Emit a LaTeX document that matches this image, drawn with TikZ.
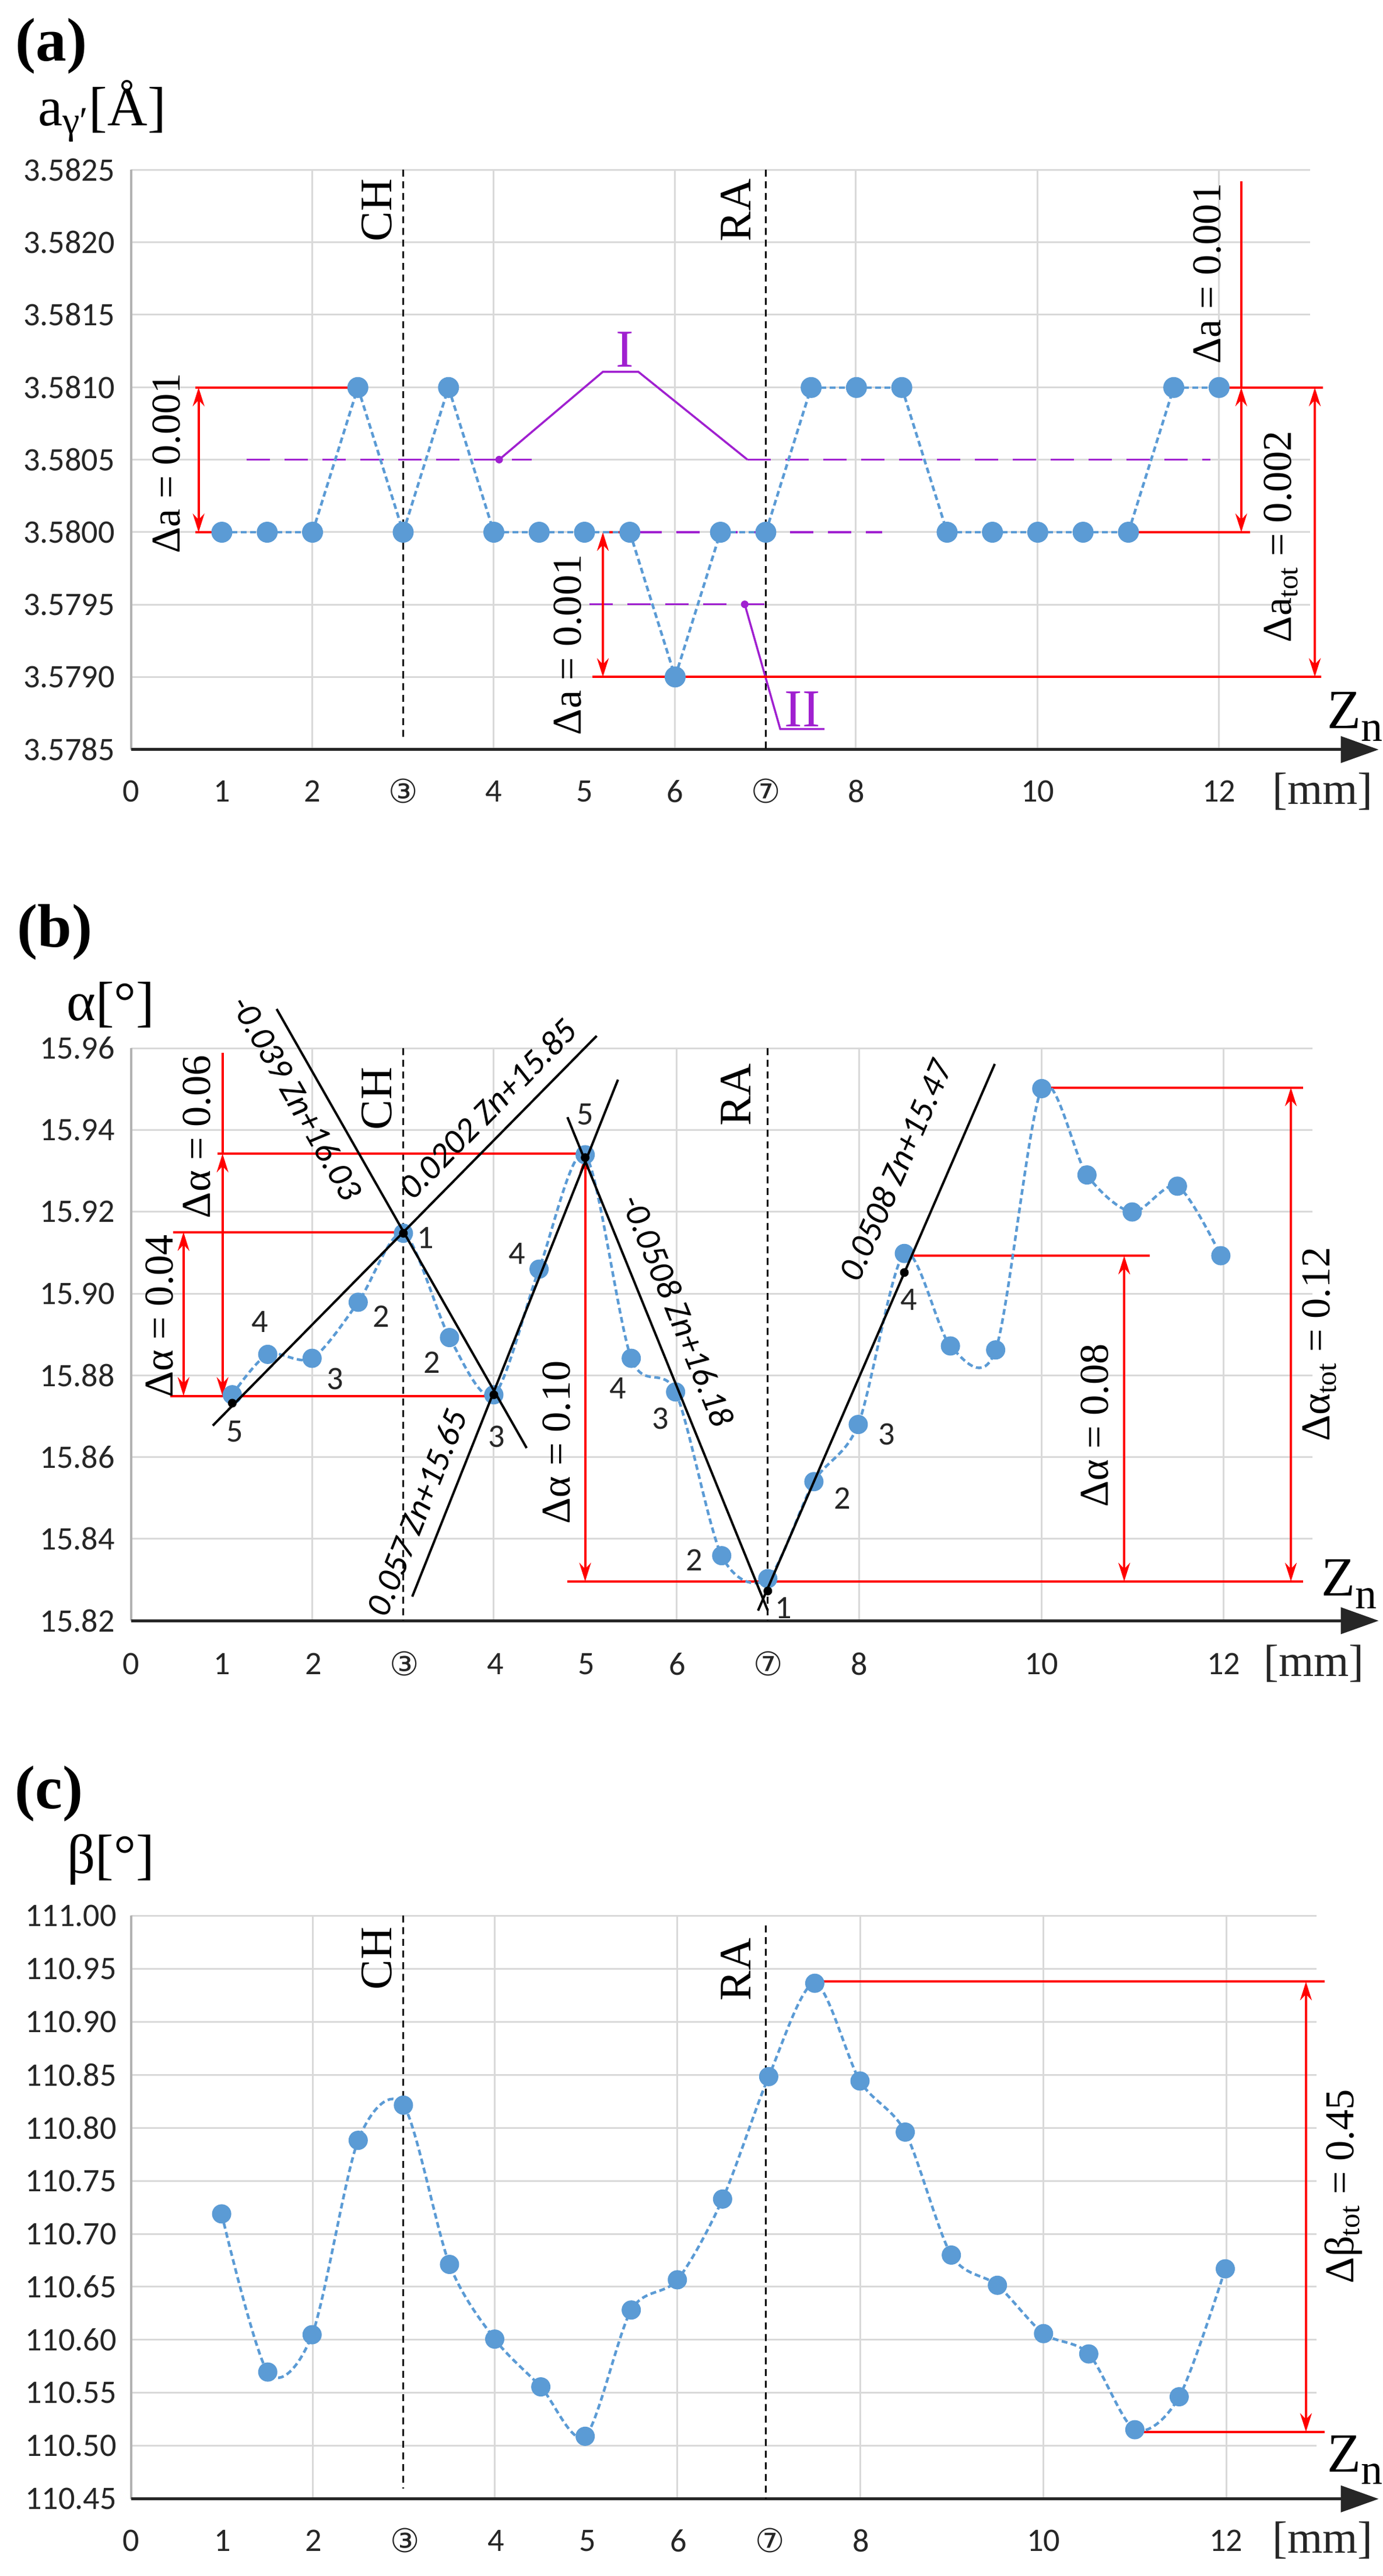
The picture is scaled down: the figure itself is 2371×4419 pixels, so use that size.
\documentclass[tikz,border=0pt]{standalone}
\usepackage{fontspec}
\setmainfont{Liberation Serif}
\newfontfamily\calfont{Carlito}
\newfontfamily\djv{DejaVu Sans}
\usetikzlibrary{arrows.meta}
\definecolor{ptblue}{HTML}{5B9BD5}
\definecolor{gridc}{HTML}{D9D9D9}
\definecolor{purp}{HTML}{A020D0}
\definecolor{tickc}{HTML}{262626}
\tikzset{
  gridl/.style={gridc,line width=0.03cm},
  yaxl/.style={gray!60,line width=0.045cm},
  xaxl/.style={black!85,line width=0.05cm,-{Triangle[length=0.65cm,width=0.45cm]}},
  tick/.style={font=\calfont\fontsize{16}{16}\selectfont,text=tickc,inner sep=0pt},
  ytick/.style={tick,anchor=east},
  dot/.style={circle,fill=ptblue,inner sep=0pt,minimum size=0.36cm},
  bdot/.style={circle,fill=black,inner sep=0pt,minimum size=0.15cm},
  bdash/.style={ptblue,line width=0.045cm,dash pattern=on 0.1cm off 0.06cm},
  vdash/.style={black,line width=0.03cm,dash pattern=on 0.12cm off 0.08cm},
  redl/.style={red,line width=0.04cm},
  redarr/.style={red,line width=0.04cm,{Stealth[length=0.32cm,width=0.2cm]}-{Stealth[length=0.32cm,width=0.2cm]}},
  lbl/.style={font=\fontsize{22}{22}\selectfont,inner sep=0pt,rotate=90},
  dlbl/.style={font=\fontsize{20}{20}\selectfont,inner sep=0pt,rotate=90},
  fitl/.style={black,line width=0.04cm},
  fitlbl/.style={font=\calfont\itshape\fontsize{17}{17}\selectfont,inner sep=1pt},
  numl/.style={font=\calfont\fontsize{16}{16}\selectfont,text=tickc,inner sep=0pt},
  purl/.style={purp,line width=0.035cm},
  purdash/.style={purp,line width=0.035cm,dash pattern=on 0.4cm off 0.25cm},
  pdot/.style={circle,fill=purp,inner sep=0pt,minimum size=0.13cm},
  panl/.style={font=\bfseries\fontsize{30}{30}\selectfont,inner sep=0pt},
  axt/.style={font=\fontsize{27}{27}\selectfont,inner sep=0pt},
}
\begin{document}
\begin{tikzpicture}[x=0.01cm,y=-0.01cm]
\useasboundingbox[fill=white] (0,0) rectangle (2371,4419);
%================ (a)
\begin{scope}[shift={(0,0)},x=0.0151987cm,y=-0.0092949cm]
\node[panl] (pa) at (58,85) {(a)};
\node[axt] (ta) at (115,205) {a\textsubscript{γ′}[Å]};
\foreach \k/\t in {0/3.5825,1/3.5820,2/3.5815,3/3.5810,4/3.5805,5/3.5800,6/3.5795,7/3.5790} {
  \draw[gridl] (148,{313+133.75*\k}) -- (1478,{313+133.75*\k});
  \node[ytick] (ya\k) at (130,{313+133.75*\k}) {\t};
}
\node[ytick] (ya8) at (130,1383) {3.5785};
\foreach \xx in {352,557,761,965,1170,1375} \draw[gridl] (\xx,313) -- (\xx,1383);
\draw[yaxl] (148,313) -- (148,1383);
\foreach \m/\t [count=\i] in {0/0,1/1,2/2,3/{\djv ③},4/4,5/5,6/6,7/{\djv ⑦},8/8,10/10,12/12}
  \node[tick] (xa\i) at ({148+102.25*\m},1460) {\t};
\node[tick,font=\fontsize{22}{22}\selectfont] (mma) at (1492,1460) {[mm]};
\coordinate (axa0) at (148,1383); \coordinate (axa1) at (1555,1383);
\draw[xaxl] (axa0) -- (axa1);
\node[axt] (za) at (1528,1322) {Z\raisebox{-0.5ex}{\fontsize{21}{21}\selectfont n}};
% CH / RA
\coordinate (cha0) at (455,313); \coordinate (cha1) at (455,1362);
\coordinate (raa0) at (864,313); \coordinate (raa1) at (864,1383);
\draw[vdash] (cha0) -- (cha1); \draw[vdash] (raa0) -- (raa1);
\node[lbl] (cha) at (425,388) {CH};
\node[lbl] (raa) at (830,388) {RA};
% purple
\coordinate (p1) at (278,848); \coordinate (p2) at (600,848);
\coordinate (p3) at (563,848); \coordinate (p4) at (680,686); \coordinate (p5) at (720,686);
\coordinate (p6) at (843,848); \coordinate (p7) at (1365,848);
\coordinate (p8) at (720,982); \coordinate (p9) at (995,982);
\coordinate (p10) at (665,1115); \coordinate (p11) at (870,1115);
\coordinate (p12) at (840,1115); \coordinate (p13) at (880,1345); \coordinate (p14) at (930,1345);
\draw[purdash] (p1) -- (p2);
\draw[purdash] (p6) -- (p7);
\draw[purdash] (p8) -- (p9);
\draw[purdash] (p10) -- (p11);
\draw[purl] (p3) -- (p4) -- (p5) -- (p6);
\draw[purl] (p12) -- (p13) -- (p14);
\node[pdot] (pd1) at (p3) {};
\node[pdot] (pd2) at (p12) {};
\node[font=\fontsize{26}{26}\selectfont,text=purp,inner sep=0pt] (lI) at (705,645) {I};
\node[font=\fontsize{26}{26}\selectfont,text=purp,inner sep=0pt] (lII) at (905,1308) {II};
% red
\coordinate (r1) at (220,715); \coordinate (r2) at (395,715);
\coordinate (r3) at (220,982); \coordinate (r4) at (250,982);
\coordinate (r5) at (224,715); \coordinate (r6) at (224,982);
\draw[redl] (r1) -- (r2); \draw[redl] (r3) -- (r4); \draw[redarr] (r5) -- (r6);
\node[dlbl] (da1) at (188,855) {Δa = 0.001};
\coordinate (r7) at (668,1249); \coordinate (r8) at (1490,1249);
\coordinate (r9) at (680,982); \coordinate (r10) at (712,982);
\coordinate (r11) at (680,1249);
\draw[redl] (r7) -- (r8); \draw[redl] (r9) -- (r10); \draw[redarr] (r9) -- (r11);
\node[dlbl] (da2) at (640,1190) {Δa = 0.001};
\coordinate (r12) at (1400,335); \coordinate (r13) at (1400,715); \coordinate (r14) at (1400,982);
\coordinate (r15) at (1275,982); \coordinate (r16) at (1410,982);
\coordinate (r17) at (1380,715); \coordinate (r18) at (1492,715);
\draw[redl] (r12) -- (r13); \draw[redarr] (r13) -- (r14);
\draw[redl] (r15) -- (r16); \draw[redl] (r17) -- (r18);
\node[dlbl] (da3) at (1362,505) {Δa = 0.001};
\coordinate (r19) at (1483,715); \coordinate (r20) at (1483,1249);
\draw[redarr] (r19) -- (r20);
\node[dlbl] (da4) at (1445,990) {Δa\textsubscript{tot} = 0.002};
% data
\foreach \m/\yy [count=\i] in {1/982,1.5/982,2/982,2.5/715,3/982,3.5/715,4/982,4.5/982,5/982,5.5/982,6/1249,6.5/982,7/982,7.5/715,8/715,8.5/715,9/982,9.5/982,10/982,10.5/982,11/982,11.5/715,12/715}
  \coordinate (a\i) at ({148+102.25*\m},\yy);
\foreach \i [evaluate=\i as \j using int(\i+1)] in {1,...,22} \draw[bdash] (a\i) -- (a\j);
\foreach \i in {1,...,23} \node[dot] (da\i) at (a\i) {};
\end{scope}
%================ (b)
\begin{scope}[shift={(0,1450)},x=0.0151987cm,y=-0.0096154cm]
\node[panl] (pb) at (62,155) {(b)};
\node[axt] (tb) at (125,285) {α[°]};
\foreach \k/\t in {0/15.96,1/15.94,2/15.92,3/15.90,4/15.88,5/15.86,6/15.84} {
  \draw[gridl] (148,{362+145.857*\k}) -- (1480,{362+145.857*\k});
  \node[ytick] (yb\k) at (130,{362+145.857*\k}) {\t};
}
\node[ytick] (yb7) at (130,1383) {15.82};
\foreach \xx in {352,557,763,969,1175,1380} \draw[gridl] (\xx,362) -- (\xx,1383);
\draw[yaxl] (148,362) -- (148,1383);
\foreach \m/\t [count=\i] in {0/0,1/1,2/2,3/{\djv ③},4/4,5/5,6/6,7/{\djv ⑦},8/8,10/10,12/12}
  \node[tick] (xb\i) at ({148+102.67*\m},1460) {\t};
\node[tick,font=\fontsize{22}{22}\selectfont] (mmb) at (1482,1460) {[mm]};
\coordinate (axb0) at (148,1383); \coordinate (axb1) at (1555,1383);
\draw[xaxl] (axb0) -- (axb1);
\node[axt] (zb) at (1522,1318) {Z\raisebox{-0.5ex}{\fontsize{21}{21}\selectfont n}};
\coordinate (chb0) at (455,362); \coordinate (chb1) at (455,1383);
\coordinate (rab0) at (866,362); \coordinate (rab1) at (866,1383);
\draw[vdash] (chb0) -- (chb1); \draw[vdash] (rab0) -- (rab1);
\node[lbl] (chb) at (425,452) {CH};
\node[lbl] (rab) at (830,445) {RA};
% red
\coordinate (s1) at (195,690); \coordinate (s2) at (455,690);
\coordinate (s3) at (192,982); \coordinate (s4) at (557,982);
\coordinate (s5) at (207,690); \coordinate (s6) at (207,982);
\draw[redl] (s1) -- (s2); \draw[redl] (s3) -- (s4); \draw[redarr] (s5) -- (s6);
\node[dlbl] (db1) at (180,840) {Δα = 0.04};
\coordinate (s7) at (245,550); \coordinate (s8) at (660,550);
\coordinate (s9) at (251,370); \coordinate (s10) at (251,550); \coordinate (s11) at (251,982);
\draw[redl] (s7) -- (s8); \draw[redl] (s9) -- (s10); \draw[redarr] (s10) -- (s11);
\node[dlbl] (db2) at (222,520) {Δα = 0.06};
\coordinate (s12) at (640,1313); \coordinate (s13) at (1470,1313);
\coordinate (s14) at (660,552); \coordinate (s15) at (660,1313);
\draw[redl] (s12) -- (s13); \draw[redarr] (s14) -- (s15);
\node[dlbl] (db3) at (628,1065) {Δα = 0.10};
\coordinate (s16) at (1020,732); \coordinate (s17) at (1297,732);
\coordinate (s18) at (1268,732); \coordinate (s19) at (1268,1313);
\draw[redl] (s16) -- (s17); \draw[redarr] (s18) -- (s19);
\node[dlbl] (db4) at (1235,1035) {Δα = 0.08};
\coordinate (s20) at (1175,432); \coordinate (s21) at (1470,432);
\coordinate (s22) at (1456,432); \coordinate (s23) at (1456,1313);
\draw[redl] (s20) -- (s21); \draw[redarr] (s22) -- (s23);
\node[dlbl] (db5) at (1488,890) {Δα\textsubscript{tot} = 0.12};
% data
\foreach \xx/\yy [count=\i] in {262/980,302/908,352/915,404/815,455/692,507/878,557/980,608/756,660/552,712/915,762/975,814/1267,866/1308,918/1135,968/1033,1020/728,1072/893,1123/900,1175/434,1226/588,1277/654,1328/608,1377/732}
  \coordinate (b\i) at (\xx,\yy);
\draw[bdash] plot[smooth,tension=0.5] coordinates {(b1) (b2) (b3) (b4) (b5) (b6) (b7) (b8) (b9) (b10) (b11) (b12) (b13) (b14) (b15) (b16) (b17) (b18) (b19) (b20) (b21) (b22) (b23)};
\foreach \i in {1,...,23} \node[dot,minimum size=0.33cm] (db\i) at (b\i) {};
% fit lines
\coordinate (f1a) at (312,292); \coordinate (f1b) at (594,1075);
\coordinate (f2a) at (240,1035); \coordinate (f2b) at (673,340);
\coordinate (f3a) at (465,1340); \coordinate (f3b) at (697,418);
\coordinate (f4a) at (640,485); \coordinate (f4b) at (866,1365);
\coordinate (f5a) at (855,1365); \coordinate (f5b) at (1122,390);
\draw[fitl] (f1a) -- (f1b); \draw[fitl] (f2a) -- (f2b); \draw[fitl] (f3a) -- (f3b);
\draw[fitl] (f4a) -- (f4b); \draw[fitl] (f5a) -- (f5b);
\foreach \xx/\yy [count=\i] in {262/995,455/692,557/980,660/557,866/1330,1020/762}
  \node[bdot] (bk\i) at (\xx,\yy) {};
\node[fitlbl,rotate=-60.3] (fl1) at (335,450) {-0.039 Zn+16.03};
\node[fitlbl,rotate=45.4] (fl2) at (550,470) {0.0202 Zn+15.85};
\node[fitlbl,rotate=68.3] (fl3) at (470,1190) {0.057 Zn+15.65};
\node[fitlbl,rotate=-67.9] (fl4) at (765,830) {-0.0508 Zn+16.18};
\node[fitlbl,rotate=66.6] (fl5) at (1010,580) {0.0508 Zn+15.47};
\foreach \xx/\yy/\t [count=\i] in {265/1045/5,293/850/4,378/952/3,430/840/2,480/700/1,487/922/2,560/1055/3,583/728/4,660/480/5,697/968/4,745/1022/3,783/1275/2,884/1360/1,950/1165/2,1000/1050/3,1025/810/4}
  \node[numl] (nl\i) at (\xx,\yy) {\t};
\end{scope}
%================ (c)
\begin{scope}[shift={(0,2950)},x=0.0151987cm,y=-0.0094167cm]
\node[panl] (pc) at (55,135) {(c)};
\node[axt] (tc) at (125,255) {β[°]};
\foreach \k/\t in {0/111.00,1/110.95,2/110.90,3/110.85,4/110.80,5/110.75,6/110.70,7/110.65,8/110.60,9/110.55,10/110.50} {
  \draw[gridl] (148,{357+96.545*\k}) -- (1485,{357+96.545*\k});
  \node[ytick] (yc\k) at (132,{357+96.545*\k}) {\t};
}
\node[ytick] (yc11) at (132,1419) {110.45};
\foreach \xx in {353,558,764,970,1177,1383} \draw[gridl] (\xx,357) -- (\xx,1419);
\draw[yaxl] (148,357) -- (148,1419);
\foreach \m/\t [count=\i] in {0/0,1/1,2/2,3/{\djv ③},4/4,5/5,6/6,7/{\djv ⑦},8/8,10/10,12/12}
  \node[tick] (xc\i) at ({148+102.9*\m},1495) {\t};
\node[tick,font=\fontsize{22}{22}\selectfont] (mmc) at (1492,1495) {[mm]};
\coordinate (axc0) at (148,1419); \coordinate (axc1) at (1555,1419);
\draw[xaxl] (axc0) -- (axc1);
\node[axt] (zc) at (1528,1348) {Z\raisebox{-0.5ex}{\fontsize{21}{21}\selectfont n}};
\coordinate (chc0) at (455,357); \coordinate (chc1) at (455,1400);
\coordinate (rac0) at (864,375); \coordinate (rac1) at (864,1419);
\draw[vdash] (chc0) -- (chc1); \draw[vdash] (rac0) -- (rac1);
\node[lbl] (chc) at (425,435) {CH};
\node[lbl] (rac) at (830,455) {RA};
\coordinate (t1) at (919,477); \coordinate (t2) at (1494,477);
\coordinate (t3) at (1280,1297); \coordinate (t4) at (1494,1297);
\coordinate (t5) at (1473,477); \coordinate (t6) at (1473,1297);
\draw[redl] (t1) -- (t2); \draw[redl] (t3) -- (t4); \draw[redarr] (t5) -- (t6);
\node[dlbl] (dc1) at (1515,850) {Δβ\textsubscript{tot} = 0.45};
\foreach \xx/\yy [count=\i] in {250/900,302/1188,352/1120,404/766,455/702,507/992,558/1128,610/1215,660/1305,712/1075,764/1020,815/873,867/650,919/480,970/658,1021/751,1073/975,1125/1030,1177/1118,1228/1155,1280/1293,1330/1233,1382/1000}
  \coordinate (c\i) at (\xx,\yy);
\draw[bdash] plot[smooth,tension=0.5] coordinates {(c1) (c2) (c3) (c4) (c5) (c6) (c7) (c8) (c9) (c10) (c11) (c12) (c13) (c14) (c15) (c16) (c17) (c18) (c19) (c20) (c21) (c22) (c23)};
\foreach \i in {1,...,23} \node[dot,minimum size=0.33cm] (dc\i) at (c\i) {};
\end{scope}
\end{tikzpicture}
\end{document}
